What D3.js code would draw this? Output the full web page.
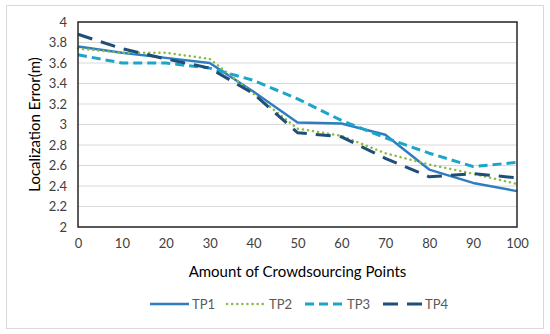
<!DOCTYPE html>
<html>
<head>
<meta charset="utf-8">
<script src="https://cdn.jsdelivr.net/npm/d3@7/dist/d3.min.js"></script>
<style>
  body { margin: 0; background: #fff; }
  svg { display: block; font-family: Lato, "Open Sans", sans-serif; }
</style>
</head>
<body>
<svg id="chart"></svg>
<script>
// Localization error vs amount of crowdsourcing points

const width = 550;
const height = 334;
const margin = { top: 22, right: 33, bottom: 107, left: 78 };

// data
const points = [0, 10, 20, 30, 40, 50, 60, 70, 80, 90, 100];
const tp1 = [3.76, 3.70, 3.65, 3.60, 3.32, 3.02, 3.01, 2.90, 2.56, 2.43, 2.35];
const tp2 = [3.74, 3.70, 3.70, 3.64, 3.30, 2.96, 2.89, 2.72, 2.61, 2.52, 2.42];
const tp3 = [3.68, 3.60, 3.60, 3.55, 3.43, 3.25, 3.04, 2.87, 2.72, 2.59, 2.63];
const tp4 = [3.88, 3.74, 3.64, 3.55, 3.30, 2.92, 2.88, 2.67, 2.49, 2.52, 2.48];
const seriesNames = ["TP1", "TP2", "TP3", "TP4"];
const yTicks = [2, 2.2, 2.4, 2.6, 2.8, 3, 3.2, 3.4, 3.6, 3.8, 4];

const series = [
  { name: "TP1", values: tp1, color: "#2e7dc0", dash: null, width: 2.5, cap: "butt" },
  { name: "TP2", values: tp2, color: "#8cba46", dash: "0.1,5", width: 2.5, cap: "round" },
  { name: "TP3", values: tp3, color: "#1ba6c9", dash: "9,5", width: 3, cap: "butt" },
  { name: "TP4", values: tp4, color: "#1f4e79", dash: "15,9", width: 3, cap: "butt" }
];

const svg = d3.select("#chart")
  .attr("width", width)
  .attr("height", height);

// outer frame
svg.append("rect")
  .attr("x", 6.5).attr("y", 5.5)
  .attr("width", 537).attr("height", 323)
  .attr("fill", "#fff")
  .attr("stroke", "#d9d9d9");

const innerW = width - margin.left - margin.right;
const innerH = height - margin.top - margin.bottom;

const g = svg.append("g")
  .attr("transform", `translate(${margin.left},${margin.top})`);

const x = d3.scaleLinear().domain([0, 100]).range([0, innerW]);
const y = d3.scaleLinear().domain([2, 4]).range([innerH, 0]);

// gridlines
g.selectAll(".grid")
  .data(yTicks)
  .join("line")
    .attr("class", "grid")
    .attr("x1", 0).attr("x2", innerW)
    .attr("y1", d => y(d)).attr("y2", d => y(d))
    .attr("stroke", "#d9d9d9")
    .attr("stroke-width", 1);

// axes (labels only)
const xAxis = d3.axisBottom(x).tickValues(points).tickSize(0).tickPadding(12);
const yAxis = d3.axisLeft(y).tickValues(yTicks).tickSize(0).tickPadding(11)
  .tickFormat(d3.format("~g"));

g.append("g")
  .attr("transform", `translate(0,${innerH})`)
  .call(xAxis)
  .call(a => a.select(".domain").remove())
  .selectAll("text")
    .attr("font-size", 13)
    .attr("font-family", "Lato, sans-serif")
    .attr("fill", "#404040");

g.append("g")
  .call(yAxis)
  .call(a => a.select(".domain").remove())
  .selectAll("text")
    .attr("font-size", 13)
    .attr("font-family", "Lato, sans-serif")
    .attr("fill", "#404040");

// lines
const line = d3.line()
  .x((d, i) => x(points[i]))
  .y(d => y(d));

g.selectAll(".series")
  .data(series)
  .join("path")
    .attr("class", "series")
    .attr("fill", "none")
    .attr("d", d => line(d.values))
    .attr("stroke", d => d.color)
    .attr("stroke-width", d => d.width)
    .attr("stroke-dasharray", d => d.dash)
    .attr("stroke-linecap", d => d.cap)
    .attr("stroke-linejoin", "round");

// plot border
g.append("rect")
  .attr("x", 0).attr("y", 0)
  .attr("width", innerW).attr("height", innerH)
  .attr("fill", "none")
  .attr("stroke", "#262626")
  .attr("stroke-width", 1.5);

// axis titles
svg.append("text")
  .attr("x", margin.left + innerW / 2)
  .attr("y", 277)
  .attr("text-anchor", "middle")
  .attr("font-size", 15)
  .attr("fill", "#000")
  .text("Amount of Crowdsourcing Points");

svg.append("text")
  .attr("transform", `translate(40,${margin.top + innerH / 2}) rotate(-90)`)
  .attr("text-anchor", "middle")
  .attr("font-size", 15)
  .attr("fill", "#000")
  .text("Localization Error(m)");

// legend
const legendX = [150, 227, 305, 383];
const legend = svg.selectAll(".legend")
  .data(series)
  .join("g")
    .attr("class", "legend")
    .attr("transform", (d, i) => `translate(${legendX[i]},304)`);

legend.append("line")
  .attr("x1", 0).attr("x2", 39)
  .attr("y1", 0).attr("y2", 0)
  .attr("stroke", d => d.color)
  .attr("stroke-width", d => d.width)
  .attr("stroke-dasharray", d => d.dash)
  .attr("stroke-linecap", d => d.cap);

legend.append("text")
  .attr("x", 42)
  .attr("y", 5)
  .attr("font-size", 13)
  .attr("fill", "#595959")
  .text((d, i) => seriesNames[i]);
</script>
</body>
</html>
